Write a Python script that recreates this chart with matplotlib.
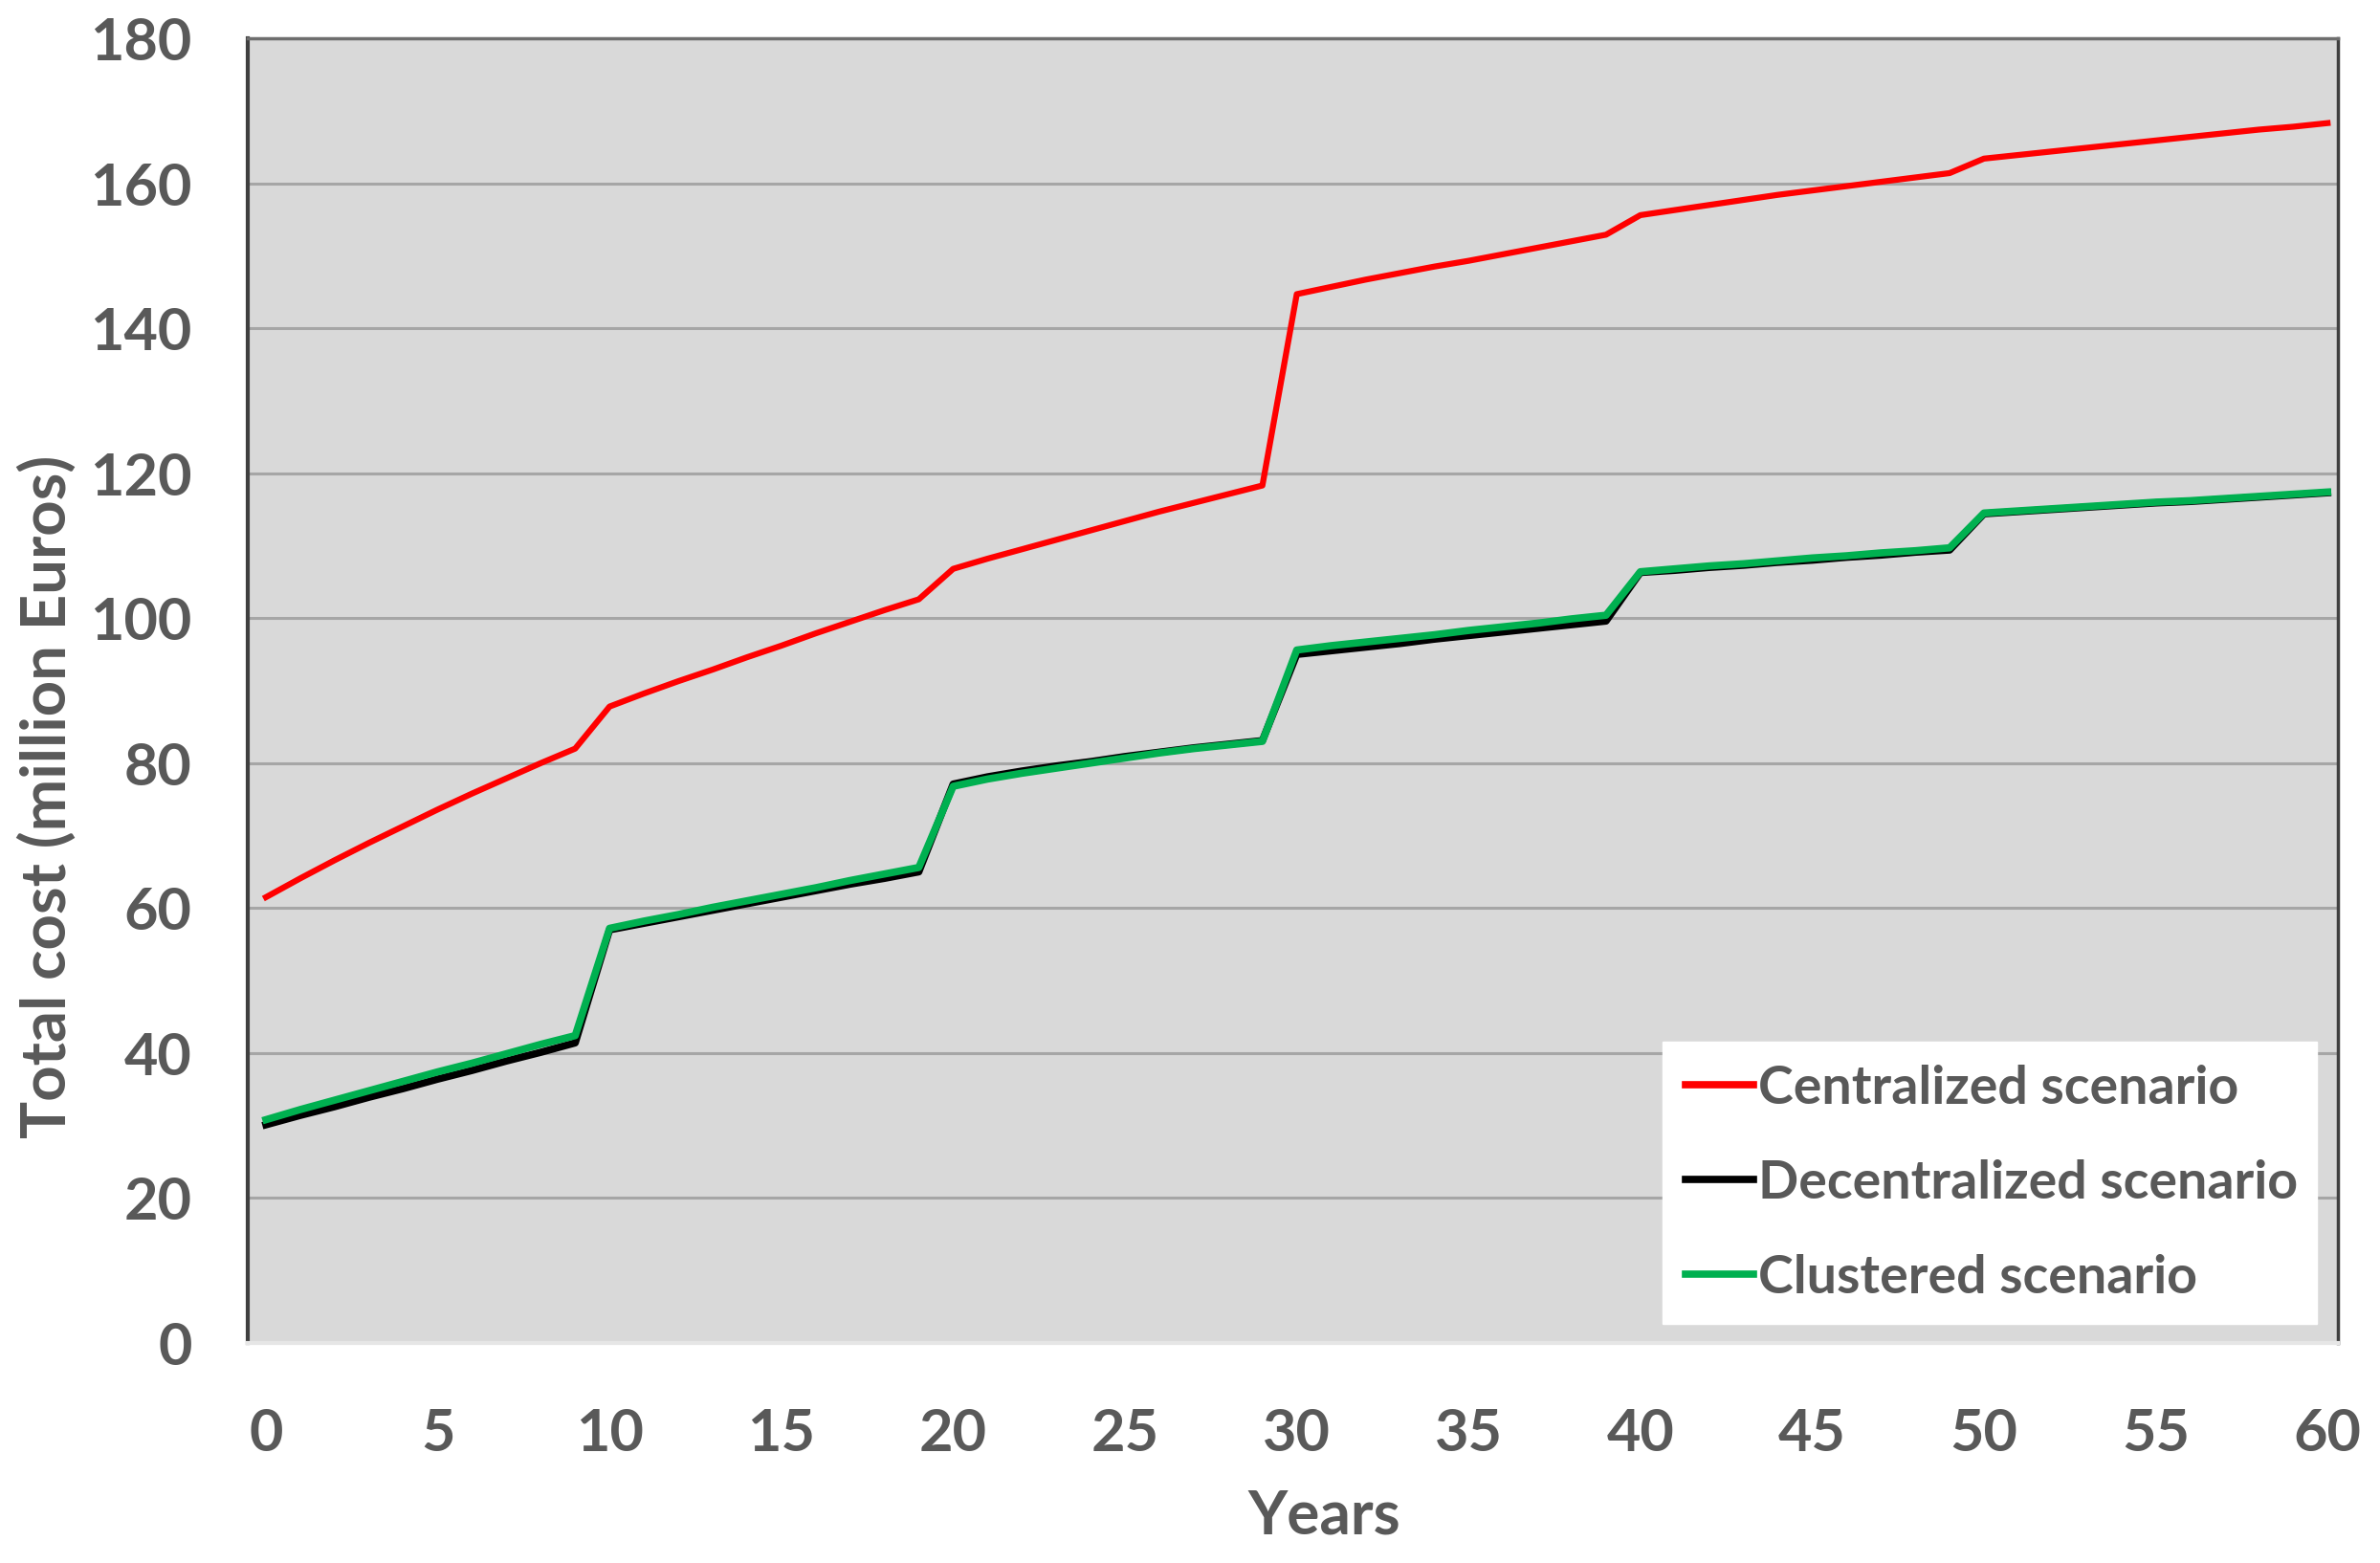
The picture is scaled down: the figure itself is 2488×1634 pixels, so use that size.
import matplotlib
matplotlib.use("Agg")
import matplotlib.pyplot as plt

years = list(range(0, 61))

centralized = [61.5, 64.1, 66.6, 69.0, 71.3, 73.6, 75.8, 77.9, 80.0, 82.0,
               87.8, 89.6, 91.3, 92.9, 94.6, 96.2, 97.9, 99.5, 101.1, 102.6,
               106.8, 108.2, 109.5, 110.8, 112.1, 113.4, 114.7, 115.9, 117.1, 118.3,
               144.7, 145.7, 146.7, 147.6, 148.5, 149.3, 150.2, 151.1, 152.0, 152.9,
               155.6, 156.3, 157.0, 157.7, 158.4, 159.0, 159.6, 160.2, 160.8, 161.4,
               163.4, 163.9, 164.4, 164.9, 165.4, 165.9, 166.4, 166.9, 167.4, 167.8, 168.3]

decentralized = [30.1, 31.4, 32.6, 33.9, 35.1, 36.4, 37.6, 38.9, 40.1, 41.4,
                 57.0, 57.9, 58.8, 59.7, 60.6, 61.5, 62.4, 63.3, 64.1, 65.0,
                 77.1, 78.1, 78.9, 79.6, 80.2, 80.9, 81.5, 82.1, 82.6, 83.1,
                 95.0, 95.5, 96.0, 96.5, 97.1, 97.6, 98.1, 98.6, 99.1, 99.6,
                 106.3, 106.6, 107.0, 107.3, 107.7, 108.0, 108.4, 108.7, 109.1, 109.4,
                 114.4, 114.7, 115.0, 115.3, 115.6, 115.9, 116.1, 116.4, 116.7, 117.0, 117.3]

clustered = [30.8, 32.2, 33.5, 34.8, 36.1, 37.4, 38.6, 39.9, 41.2, 42.4,
             57.2, 58.2, 59.1, 60.1, 61.0, 61.9, 62.8, 63.8, 64.7, 65.6,
             76.8, 77.8, 78.6, 79.3, 80.0, 80.7, 81.4, 82.0, 82.5, 83.0,
             95.6, 96.2, 96.7, 97.2, 97.7, 98.3, 98.8, 99.3, 99.9, 100.4,
             106.4, 106.8, 107.2, 107.5, 107.9, 108.3, 108.6, 109.0, 109.3, 109.7,
             114.5, 114.8, 115.1, 115.4, 115.7, 116.0, 116.2, 116.5, 116.8, 117.1, 117.4]

labels = ["Centralized scenario", "Decentralized scenario", "Clustered scenario"]
colors = ["#FF0000", "#000000", "#00B050"]
x_ticks = list(range(0, 61, 5))
y_ticks = list(range(0, 181, 20))

plt.rcParams['font.family'] = ['Lato', 'DejaVu Sans']
plt.rcParams['font.weight'] = 'bold'
txt = "#595959"

fig = plt.figure(figsize=(24.88, 16.34), dpi=100)
ax = fig.add_axes([0.1041, 0.1408, 0.8782, 0.8347])
ax.set_facecolor("#D9D9D9")

ax.plot(years, centralized, color=colors[0], lw=4.5, label=labels[0], zorder=3)
ax.plot(years, decentralized, color=colors[1], lw=5.5, label=labels[1], zorder=4)
ax.plot(years, clustered, color=colors[2], lw=5.5, label=labels[2], zorder=5)

ax.set_xlim(-0.53, 60.3)
ax.set_ylim(0, 180)
ax.set_xticks(x_ticks)
ax.set_yticks(y_ticks)
ax.yaxis.grid(True, color="#A6A6A6", lw=2.2)
ax.set_axisbelow(True)
ax.tick_params(length=0, labelsize=44, labelcolor=txt)
ax.tick_params(axis='y', pad=42)
ax.tick_params(axis='x', pad=48)
for lab in ax.get_xticklabels() + ax.get_yticklabels():
    lab.set_fontweight('bold')

ax.spines['left'].set_color("#3F3F3F")
ax.spines['left'].set_linewidth(3)
ax.spines['top'].set_color("#6E6E6E")
ax.spines['top'].set_linewidth(2.5)
ax.spines['right'].set_color("#404040")
ax.spines['right'].set_linewidth(2.5)
ax.spines['bottom'].set_color("#E6E6E6")
ax.spines['bottom'].set_linewidth(3)

ax.set_xlabel("Years", fontsize=46, color=txt, fontweight='bold')
ax.set_ylabel("Total cost (million Euros)", fontsize=47, color=txt, fontweight='bold')
ax.xaxis.set_label_coords(0.515, -0.112)
ax.yaxis.set_label_coords(-0.082, 0.419)

leg = ax.legend(loc='lower left', bbox_to_anchor=(0.677, 0.0147, 0.313, 0.217),
                mode='expand', frameon=True, fancybox=False, fontsize=40,
                handlelength=1.28, handletextpad=0.1, labelspacing=0.88,
                borderpad=0.42, borderaxespad=0)
leg.get_frame().set_facecolor("white")
leg.get_frame().set_edgecolor("white")
leg.get_frame().set_alpha(1)
for t in leg.get_texts():
    t.set_color(txt)
    t.set_fontweight('bold')
for h in leg.get_lines():
    h.set_linewidth(5.5)

fig.savefig("out.png", dpi=100)
